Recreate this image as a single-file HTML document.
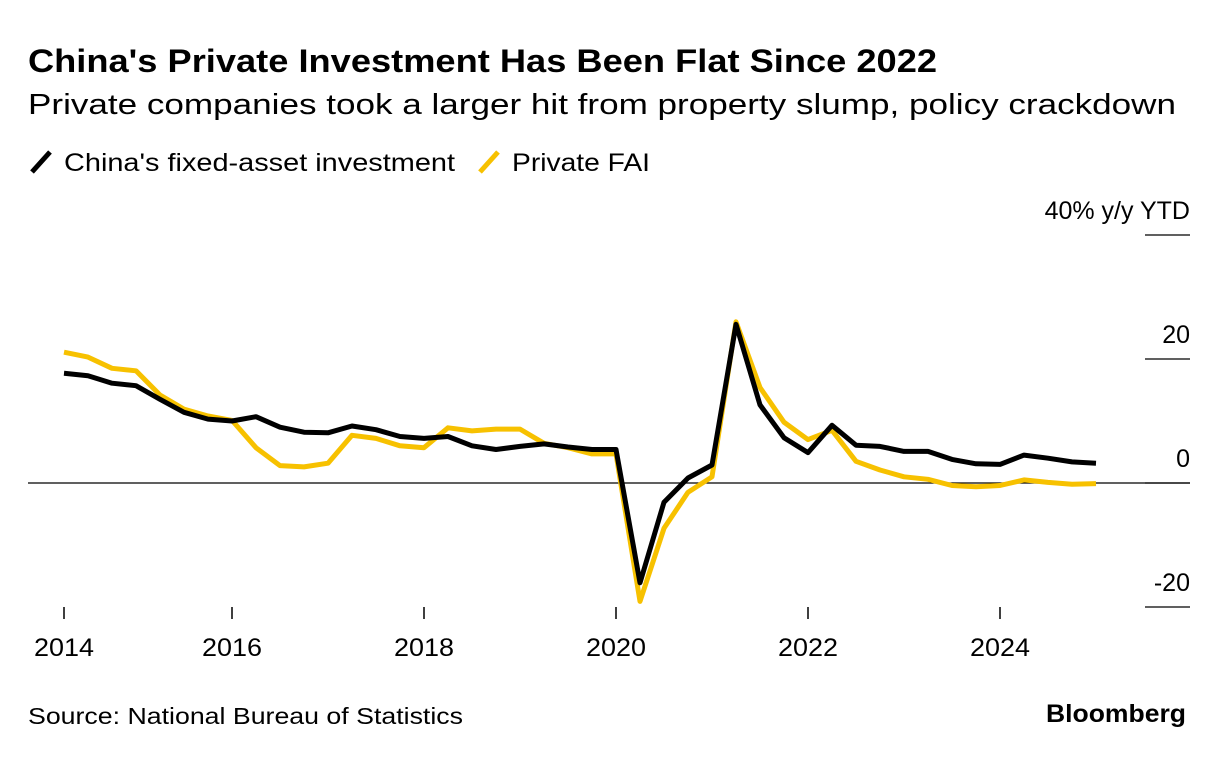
<!DOCTYPE html>
<html><head><meta charset="utf-8"><style>
body{margin:0;background:#fff;font-family:"Liberation Sans",sans-serif;}
</style></head><body>
<svg width="1224" height="772" xmlns="http://www.w3.org/2000/svg" font-family="Liberation Sans, sans-serif">
<text x="28" y="72" font-size="32" font-weight="bold" fill="#000" textLength="909" lengthAdjust="spacingAndGlyphs">China's Private Investment Has Been Flat Since 2022</text>
<text x="28" y="114" font-size="29" fill="#000" textLength="1148" lengthAdjust="spacingAndGlyphs">Private companies took a larger hit from property slump, policy crackdown</text>
<g>
<line x1="32" y1="172" x2="50" y2="152" stroke="#000" stroke-width="5"/>
<text x="64" y="171" font-size="25" textLength="391" lengthAdjust="spacingAndGlyphs">China's fixed-asset investment</text>
<line x1="480" y1="172" x2="498" y2="152" stroke="#f7c100" stroke-width="5"/>
<text x="512" y="171" font-size="25" textLength="138" lengthAdjust="spacingAndGlyphs">Private FAI</text>
</g>
<g id="yaxis"></g>
<g id="xaxis"></g>
<g id="series"></g>
<text x="28" y="724" font-size="23" textLength="435" lengthAdjust="spacingAndGlyphs">Source: National Bureau of Statistics</text>
<text x="1186" y="722" font-size="25" font-weight="bold" text-anchor="end" textLength="140" lengthAdjust="spacingAndGlyphs">Bloomberg</text>
</svg>
<script>
const years=[2014,2015,2016,2017,2018,2019,2020,2021,2022,2023,2024];
const faiValues=[17.7,17.3,16.1,15.7,13.5,11.4,10.3,10.0,10.7,9.0,8.2,8.1,9.2,8.6,7.5,7.2,7.5,6.0,5.4,5.9,6.3,5.8,5.4,5.4,-16.1,-3.1,0.8,2.9,25.6,12.6,7.3,4.9,9.3,6.1,5.9,5.1,5.1,3.8,3.1,3.0,4.5,4.0,3.4,3.2];
const privateValues=[21.1,20.3,18.5,18.1,14.2,11.9,10.8,10.1,5.7,2.8,2.6,3.2,7.7,7.2,6.0,5.7,8.9,8.4,8.7,8.7,6.4,5.7,4.7,4.7,-19.1,-7.3,-1.5,1.0,26.0,15.4,9.8,7.0,8.5,3.5,2.1,1.0,0.6,-0.4,-0.6,-0.4,0.5,0.1,-0.2,-0.1];
const yTicks=[40,20,0,-20];
const yTickLabels=["40% y/y YTD","20","0","-20"];
const xTicks=[2014.25,2016,2018,2020,2022,2024];
const xTickLabels=["2014","2016","2018","2020","2022","2024"];
const NS="http://www.w3.org/2000/svg";
function x(t){return 40+(t-2014)*96;}
function y(v){return 483-v*6.2;}
function mk(tag,attrs,parent){const e=document.createElementNS(NS,tag);for(const k in attrs)e.setAttribute(k,attrs[k]);parent.appendChild(e);return e;}
const ya=document.getElementById('yaxis'),xa=document.getElementById('xaxis'),sg=document.getElementById('series');
yTicks.forEach((v,i)=>{
 const l=mk('line',{x1:1145,x2:1190,y1:y(v),y2:y(v),stroke:'#000','stroke-width':1.2},ya);
 
 
 const t=mk('text',{x:1190,y:y(v)-16,'font-size':25,'text-anchor':'end'},ya);
 t.textContent=yTickLabels[i];
 
 
});
const zl=mk('line',{x1:28,x2:1190,y1:y(0),y2:y(0),stroke:'#000','stroke-width':1.2},ya);


xTicks.forEach((t,i)=>{
 const l=mk('line',{x1:x(t),x2:x(t),y1:607,y2:619,stroke:'#000','stroke-width':1.5},xa);
 
 
 const tx=mk('text',{x:x(t),y:656,'font-size':25,'text-anchor':'middle',textLength:60,lengthAdjust:'spacingAndGlyphs'},xa);
 tx.textContent=xTickLabels[i];
 
 
});
function times(){const r=[];years.forEach(yr=>{for(let q=1;q<=4;q++)r.push(yr+q*0.25);});return r;}
const ts=times();
function path(vals,color,name){
 const d=vals.map((v,i)=>(i?'L':'M')+x(ts[i]).toFixed(1)+','+y(v).toFixed(1)).join('');
 const p=mk('path',{d:d,fill:'none',stroke:color,'stroke-width':5,'stroke-linejoin':'round'},sg);
 
 
}
path(privateValues,'#f7c100','private-fai-line');
path(faiValues,'#000','fai-line');
</script>
</body></html>
